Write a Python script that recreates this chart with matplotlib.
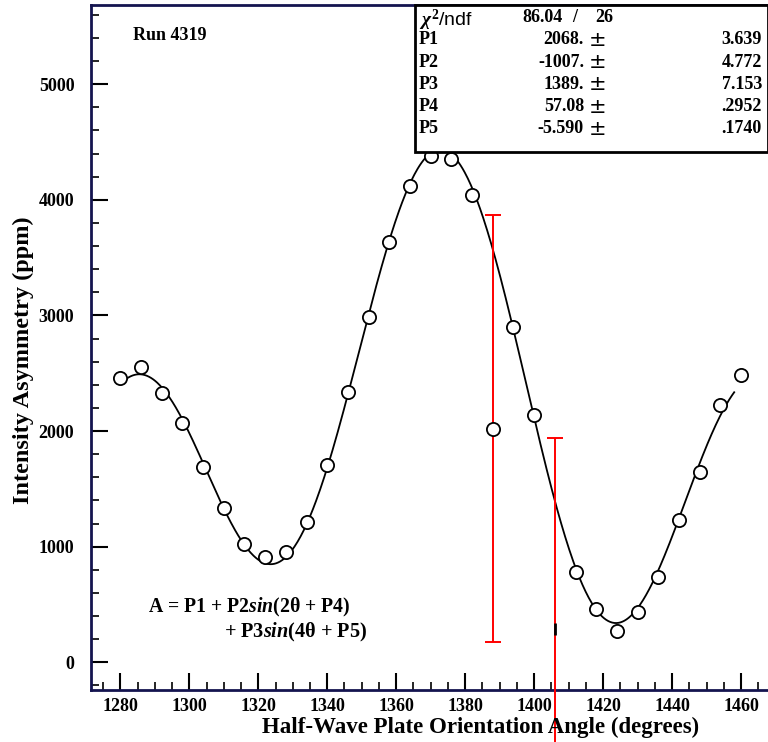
import numpy as np
import matplotlib
matplotlib.use("Agg")
import matplotlib.pyplot as plt
from matplotlib.ticker import MultipleLocator

plt.rcParams['font.family'] = ['Liberation Serif', 'DejaVu Serif']
plt.rcParams['font.weight'] = 'bold'
plt.rcParams['mathtext.fontset'] = 'custom'
plt.rcParams['mathtext.it'] = 'Liberation Serif:italic:bold'
plt.rcParams['mathtext.rm'] = 'Liberation Serif:bold'

# measured points (angle, asymmetry)
angle = [1280, 1286, 1292, 1298, 1304, 1310, 1316, 1322, 1328, 1334, 1340,
         1346, 1352, 1358, 1364, 1370, 1376, 1382, 1394, 1400,
         1412, 1418, 1424, 1430, 1436, 1442, 1448, 1454, 1460]
asym = [2457, 2552, 2327, 2067, 1687, 1332, 1021, 908, 952, 1211, 1704,
        2336, 2984, 3633, 4118, 4377, 4351, 4040, 2898, 2137,
        779, 458, 268, 432, 735, 1228, 1644, 2223, 2483]

# points with large error bars
err_angle = [1388, 1406]
err_val = [2018, 285]
err_size = [1847, 1655]

# fit results
chi2, ndf = "86.04", "26"
par_names = ["P1", "P2", "P3", "P4", "P5"]
par_vals = [2068., -1007., 1389., 57.08, -5.590]
par_text = ["2068.", "-1007.", "1389.", "57.08", "-5.590"]
par_errs = ["3.639", "4.772", "7.153", ".2952", ".1740"]

navy = '#14144f'

fig = plt.figure(figsize=(7.68, 7.42), dpi=100)
ax = fig.add_axes([91/768, 1-690/742, 677/768, 685/742])

# fit curve
th = np.linspace(1280, 1458, 600)
P1, P2, P3, P4, P5 = par_vals
fit = P1 + P2*np.sin(np.radians(2*th + P4)) + P3*np.sin(np.radians(4*th + P5))
ax.plot(th, fit, color='black', lw=1.3, zorder=2)

# error bars (not clipped, second one runs off the bottom)
eb = ax.errorbar(err_angle, err_val, yerr=err_size, fmt='none', ecolor='red',
                 elinewidth=1.4, capsize=6, capthick=1.4, zorder=3)
for art in eb.lines[1] + eb.lines[2]:
    art.set_clip_on(False)
ax.plot(err_angle[0], err_val[0], 'o', ms=9.5, mfc='white', mec='black', mew=1.3, zorder=4)
ax.plot(err_angle[1], err_val[1], '|', ms=9, color='black', mew=2, zorder=4)

ax.plot(angle, asym, 'o', ms=9.5, mfc='white', mec='black', mew=1.3, zorder=4)

ax.set_xlim(1271.5, 1467.8)
ax.set_ylim(-240, 5685)

ax.xaxis.set_major_locator(MultipleLocator(20))
ax.xaxis.set_minor_locator(MultipleLocator(5))
ax.yaxis.set_major_locator(MultipleLocator(1000))
ax.yaxis.set_minor_locator(MultipleLocator(200))
ax.tick_params(which='both', direction='in', top=False, right=False, color='black')
ax.tick_params(which='major', length=12, width=1.5, labelsize=13)
ax.tick_params(which='minor', length=6, width=1.2)
ax.tick_params(axis='x', pad=6)
ax.tick_params(axis='y', pad=12)
for lab in ax.get_xticklabels() + ax.get_yticklabels():
    lab.set_fontweight('bold')

ax.spines['right'].set_visible(False)
for s in ['left', 'bottom', 'top']:
    ax.spines[s].set_color(navy)
    ax.spines[s].set_linewidth(2)

fig.text(481/768, 1-727/742, 'Half-Wave Plate Orientation Angle (degrees)',
         ha='center', va='center', fontsize=16.5, fontweight='bold')
fig.text(23/768, 1-360/742, 'Intensity Asymmetry (ppm)', rotation=90,
         ha='center', va='center', fontsize=17.5, fontweight='bold')

fig.text(133/768, 1-35/742, 'Run 4319', ha='left', va='center', fontsize=13, fontweight='bold')
fig.text(148/768, 1-607/742, r'A = P1 + P2$sin$(2θ + P4)', ha='left', va='center',
         fontsize=14.2, fontweight='bold')
fig.text(224/768, 1-632/742, r'+ P3$sin$(4θ + P5)', ha='left', va='center',
         fontsize=14.6, fontweight='bold')

# stats box
box = plt.Rectangle((415/768, 1-152/742), 353/768, 147/742, transform=fig.transFigure,
                    facecolor='white', edgecolor='black', lw=2, zorder=5)
fig.add_artist(box)
fig.text(419/768, 1-20/742, r'$\chi^2$/ndf', family='Liberation Sans', fontweight='normal',
         fontsize=14, ha='left', va='center', zorder=6)
fig.text(522/768, 1-18/742, chi2, fontsize=13, ha='left', va='center', zorder=6)
fig.text(575/768, 1-18/742, '/', fontsize=13, ha='center', va='center', zorder=6)
fig.text(595/768, 1-18/742, ndf, fontsize=13, ha='left', va='center', zorder=6)
for i, (nm, v, e) in enumerate(zip(par_names, par_text, par_errs)):
    y = 1 - (40 + 22.2*i)/742
    fig.text(419/768, y, nm, fontsize=13, ha='left', va='center', zorder=6)
    fig.text(584/768, y, v, fontsize=13, ha='right', va='center', zorder=6)
    fig.text(598/768, y, '±', fontsize=15, family='DejaVu Sans', fontweight='normal',
             ha='center', va='center', zorder=6)
    fig.text(762/768, y, e, fontsize=13, ha='right', va='center', zorder=6)

fig.savefig('out.png', dpi=100)
